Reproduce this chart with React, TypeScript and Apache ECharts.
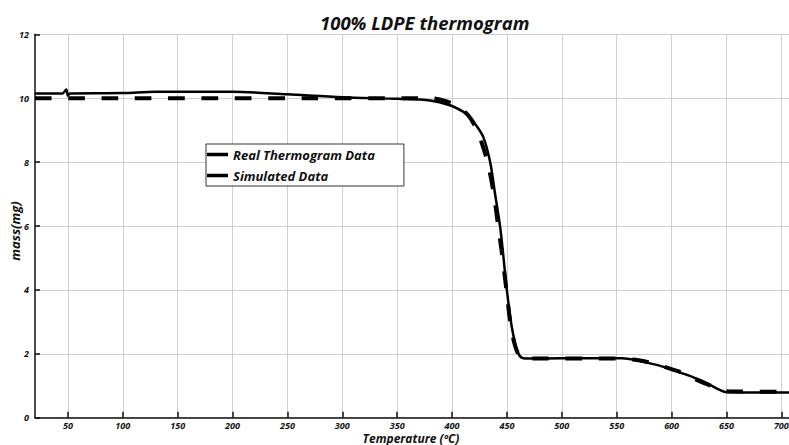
import React, { useEffect, useRef } from "react";
import * as echarts from "echarts";

const titleText = "100% LDPE thermogram";
const xName = "Temperature (ºC)";
const yName = "mass(mg)";
const seriesNames = ["Real Thermogram Data", "Simulated Data"];
const xTicks = [50, 100, 150, 200, 250, 300, 350, 400, 450, 500, 550, 600, 650, 700];

const realData: [number, number][] = [
  [20, 10.15], [45, 10.15], [48.5, 10.27], [50, 10.08], [52, 10.15], [100, 10.16],
  [130, 10.2], [200, 10.2], [250, 10.12], [300, 10.03], [350, 9.98], [380, 9.93],
  [398, 9.78], [410, 9.58], [416, 9.42], [422, 9.15], [428.5, 8.78], [434.7, 8.0],
  [439.2, 7.0], [443.8, 5.97], [446.8, 5.03], [449.9, 4.0], [454.4, 2.84], [459, 2.12],
  [462, 1.92], [465, 1.86], [470, 1.85], [500, 1.86], [555, 1.86], [568, 1.8],
  [580.5, 1.7], [592, 1.6], [601.5, 1.49], [614, 1.34], [626, 1.18], [635, 1.03],
  [644, 0.87], [650, 0.8], [707, 0.79],
];

const simData: [number, number][] = [
  [20, 10.0], [380, 10.0], [395, 9.9], [405, 9.75], [415, 9.45], [422, 9.05],
  [428, 8.5], [433, 7.9], [438, 7.0], [442, 6.0], [446, 5.0], [449.5, 4.0],
  [453, 3.0], [457, 2.3], [461, 1.95], [465, 1.86], [480, 1.85], [550, 1.85],
  [570, 1.8], [585, 1.68], [600, 1.52], [612, 1.38], [625, 1.15], [636, 1.0],
  [645, 0.88], [652, 0.83], [707, 0.81],
];

const FONT = "Open Sans";

export default function App() {
  const ref = useRef<HTMLDivElement>(null);
  useEffect(() => {
    if (!ref.current) return;
    const chart = echarts.init(ref.current, null, { renderer: "svg" });
    const labelStyle = {
      fontFamily: FONT,
      fontStyle: "italic" as const,
      fontWeight: "bold" as const,
      fontSize: 9,
      lineHeight: 10,
      color: "#111",
    };
    chart.setOption({
      animation: false,
      backgroundColor: "#fff",
      title: {
        text: titleText,
        left: 315,
        top: 8,
        textStyle: {
          fontFamily: FONT,
          fontStyle: "italic",
          fontWeight: "bold",
          fontSize: 18.5,
          color: "#111",
        },
      },
      graphic: [
        {
          type: "text",
          x: 15,
          y: 231,
          rotation: Math.PI / 2,
          style: {
            text: yName,
            align: "center",
            verticalAlign: "middle",
            fontFamily: FONT,
            fontStyle: "italic",
            fontWeight: "bold",
            fontSize: 13,
            fill: "#111",
          },
        },
        {
          type: "text",
          x: 411,
          y: 438,
          style: {
            text: xName,
            align: "center",
            verticalAlign: "middle",
            fontFamily: FONT,
            fontStyle: "italic",
            fontWeight: "bold",
            fontSize: 12,
            lineHeight: 12,
            fill: "#111",
          },
        },
      ],
      legend: {
        orient: "vertical",
        left: 206,
        top: 144,
        padding: [3, 29, 3, 1],
        itemGap: 6,
        itemWidth: 21,
        itemHeight: 3.5,
        backgroundColor: "#fff",
        borderColor: "#333",
        borderWidth: 1,
        borderRadius: 0,
        data: seriesNames.map((n) => ({ name: n, icon: "rect" })),
        textStyle: {
          fontFamily: FONT,
          fontStyle: "italic",
          fontWeight: "bold",
          fontSize: 13,
          lineHeight: 15,
          color: "#111",
        },
      },
      grid: {
        left: 35,
        right: 0,
        top: 34.3,
        bottom: 27.3,
        containLabel: false,
        outerBoundsMode: "none",
      },
      xAxis: {
        type: "value",
        min: 20,
        max: 707,
        axisLine: { lineStyle: { color: "#111", width: 1.5 } },
        axisTick: { inside: true, length: 6, customValues: xTicks, lineStyle: { color: "#111", width: 1.5 } },
        axisLabel: { ...labelStyle, customValues: xTicks, margin: 3 },
        splitLine: { show: true, lineStyle: { color: "#cfcfcf", width: 1 } },
      },
      yAxis: {
        type: "value",
        min: 0,
        max: 12,
        interval: 2,
        axisLine: { show: true, lineStyle: { color: "#111", width: 1.5 } },
        axisTick: { show: true, inside: true, length: 5, lineStyle: { color: "#111", width: 1.5 } },
        axisLabel: { ...labelStyle, margin: 6 },
        splitLine: { show: true, lineStyle: { color: "#cfcfcf", width: 1 } },
      },
      series: [
        {
          name: seriesNames[0],
          type: "line",
          data: realData,
          showSymbol: false,
          symbol: "none",
          smooth: 0.3,
          color: "#000",
          lineStyle: { color: "#000", width: 2.5 },
          z: 2,
        },
        {
          name: seriesNames[1],
          type: "line",
          data: simData,
          showSymbol: false,
          symbol: "none",
          smooth: 0.3,
          color: "#000",
          lineStyle: { color: "#000", width: 4, type: [16.7, 16.6] },
          z: 3,
        },
      ],
    });
    return () => chart.dispose();
  }, []);
  return (
    <div
      ref={ref}
      style={{ position: "fixed", left: 0, top: 0, width: 789, height: 445 }}
    />
  );
}
